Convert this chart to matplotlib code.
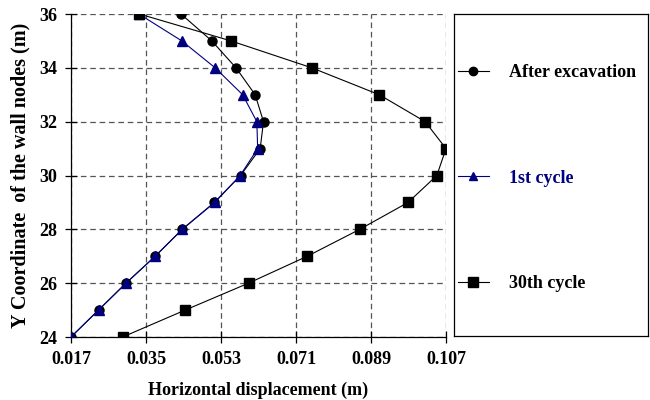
import numpy as np
import matplotlib.pyplot as plt
from matplotlib.lines import Line2D

plt.rcParams['font.family'] = ['Liberation Serif', 'DejaVu Serif']
plt.rcParams['font.weight'] = 'bold'
plt.rcParams['axes.labelweight'] = 'bold'
plt.rcParams['font.size'] = 13

# data (node elevation vs horizontal displacement)
y_nodes = [36, 35, 34, 33, 32, 31, 30, 29, 28, 27, 26, 25, 24]
after_exc = [0.0434, 0.0508, 0.0566, 0.0612, 0.0632, 0.0624, 0.0577,
             0.0514, 0.0437, 0.0372, 0.0302, 0.0236, 0.0170]
cycle_1 = [0.0333, 0.0436, 0.0516, 0.0582, 0.0616, 0.0618, 0.0576,
           0.0515, 0.0437, 0.0372, 0.0302, 0.0236, 0.0170]
cycle_30 = [0.0334, 0.0554, 0.0748, 0.0910, 0.1020, 0.1070, 0.1048,
            0.0979, 0.0863, 0.0737, 0.0596, 0.0444, 0.0294]

x_ticks = [0.017, 0.035, 0.053, 0.071, 0.089, 0.107]
y_ticks = [24, 26, 28, 30, 32, 34, 36]

navy = '#000080'

fig = plt.figure(figsize=(6.5, 4), dpi=100)
ax = fig.add_axes([71/650, 1-337/400, 375/650, 323/400])

ax.plot(after_exc, y_nodes, color='black', lw=0.8, marker='o', ms=6.5,
        mfc='black', mec='black', zorder=3)
ax.plot(cycle_1, y_nodes, color=navy, lw=0.8, marker='^', ms=6.5,
        mfc=navy, mec=navy, zorder=4)
ax.plot(cycle_30, y_nodes, color='black', lw=0.8, marker='s', ms=7,
        mfc='black', mec='black', zorder=5)

ax.set_xlim(0.017, 0.107)
ax.set_ylim(24, 36)
ax.set_xticks(x_ticks)
ax.set_xticklabels(['%.3f' % v for v in x_ticks])
ax.set_yticks(y_ticks)
ax.grid(True, color='#555555', ls=(0, (4.5, 3)), lw=0.9)
ax.set_axisbelow(True)
for s in ['top', 'right']:
    ax.spines[s].set_visible(False)
for s in ['left', 'bottom']:
    ax.spines[s].set_linewidth(0.9)
ax.tick_params(direction='inout', length=8, width=0.9, pad=6)
ax.set_xlabel('Horizontal displacement (m)', labelpad=10)
ax.set_ylabel('Y Coordinate  of the wall nodes (m)', fontsize=14.5, labelpad=6)
ax.patch.set_alpha(0)

# legend box
lax = fig.add_axes([454/650, 1-336/400, 194/650, 322/400])
lax.set_xticks([])
lax.set_yticks([])
for s in lax.spines.values():
    s.set_linewidth(0.9)
handles = [
    Line2D([], [], color='black', lw=0.8, marker='o', ms=6, mfc='black'),
    Line2D([], [], color=navy, lw=0.8, marker='^', ms=6, mfc=navy, mec=navy),
    Line2D([], [], color='black', lw=0.8, marker='s', ms=6.5, mfc='black'),
]
labels = ['After excavation', '1st cycle', '30th cycle']
leg = lax.legend(handles, labels, loc='center left', bbox_to_anchor=(4/194, 0.49),
                 frameon=False, borderaxespad=0, borderpad=0, labelspacing=4.9,
                 handlelength=1.7, handletextpad=1.1)
leg.get_texts()[1].set_color(navy)

fig.savefig('out.png', dpi=100)
